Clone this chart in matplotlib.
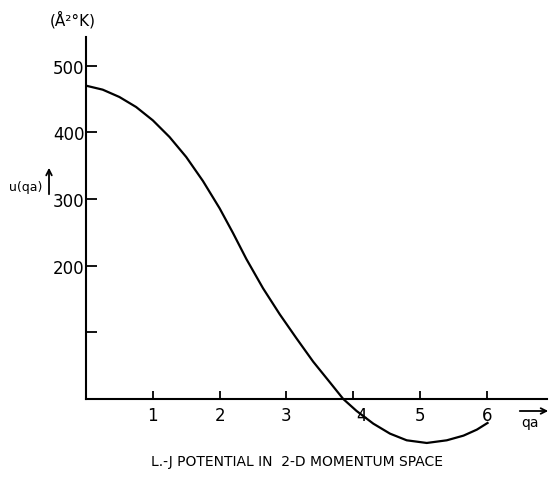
import matplotlib.pyplot as plt
import matplotlib.transforms as mtrans

# curve
qa = [0.0, 0.25, 0.5, 0.75, 1.0, 1.25, 1.5, 1.75, 2.0, 2.2, 2.4, 2.65,
      2.9, 3.15, 3.4, 3.65, 3.85, 4.05, 4.3, 4.55, 4.8, 5.1, 5.4, 5.65,
      5.85, 6.01]
u = [470, 464, 453, 438, 418, 393, 363, 327, 286, 249, 210, 166,
     127, 91, 56, 25, 0, -18, -37, -52, -62, -66, -62, -55,
     -46, -36]

x_ticks = [1, 2, 3, 4, 5, 6]
x_tick_labels = ['1', '2', '3', '4', '5', '6']
y_ticks = [100, 200, 300, 400, 500]
y_tick_labels = ['', '200', '300', '400', '500']

W, H = 552, 481


def fx(px):
    return px / W


def fy(py):
    return 1 - py / H


fig = plt.figure(figsize=(W / 100, H / 100), dpi=100)
ax = fig.add_axes([fx(86), fy(453.3), (547 - 86) / W, (453.3 - 38) / H])

ax.plot(qa, u, color='black', lw=1.6, solid_joinstyle='round')
ax.set_xlim(0, 6.9)
ax.set_ylim(-80, 543)

# axes drawn like the hand-lettered original
ax.spines['top'].set_visible(False)
ax.spines['right'].set_visible(False)
ax.spines['bottom'].set_position(('data', 0))
ax.spines['left'].set_bounds(0, 543)
for s in ['left', 'bottom']:
    ax.spines[s].set_linewidth(1.5)

ax.set_xticks(x_ticks)
ax.set_xticklabels(x_tick_labels)
ax.set_yticks(y_ticks)
ax.set_yticklabels(y_tick_labels)
ax.tick_params(axis='x', direction='in', length=6, width=1.3, pad=5, labelsize=12)
ax.tick_params(axis='y', direction='in', length=8, width=1.3, pad=1, labelsize=12)

# the "4" sits a bit right of its tick, clear of the curve
lab4 = ax.get_xticklabels()[3]
lab4.set_transform(lab4.get_transform() + mtrans.ScaledTranslation(8 / 100, 0, fig.dpi_scale_trans))

# units and axis names
fig.text(fx(73), fy(20), '(Å²°K)', ha='center', va='center', fontsize=11)
fig.text(fx(26), fy(187), 'u(qa)', ha='center', va='center', fontsize=9)
ax.annotate('', xy=(fx(49), fy(166)), xytext=(fx(49), fy(198)),
            xycoords='figure fraction', textcoords='figure fraction',
            arrowprops=dict(arrowstyle='->', lw=1.3, color='black'))
ax.annotate('', xy=(fx(551), fy(412)), xytext=(fx(517), fy(412)),
            xycoords='figure fraction', textcoords='figure fraction',
            arrowprops=dict(arrowstyle='->', lw=1.3, color='black'))
fig.text(fx(530), fy(423), 'qa', ha='center', va='center', fontsize=10)

fig.text(fx(297), fy(462), 'L.-J POTENTIAL IN  2-D MOMENTUM SPACE',
         ha='center', va='center', fontsize=10)

fig.savefig('out.png', dpi=100)
